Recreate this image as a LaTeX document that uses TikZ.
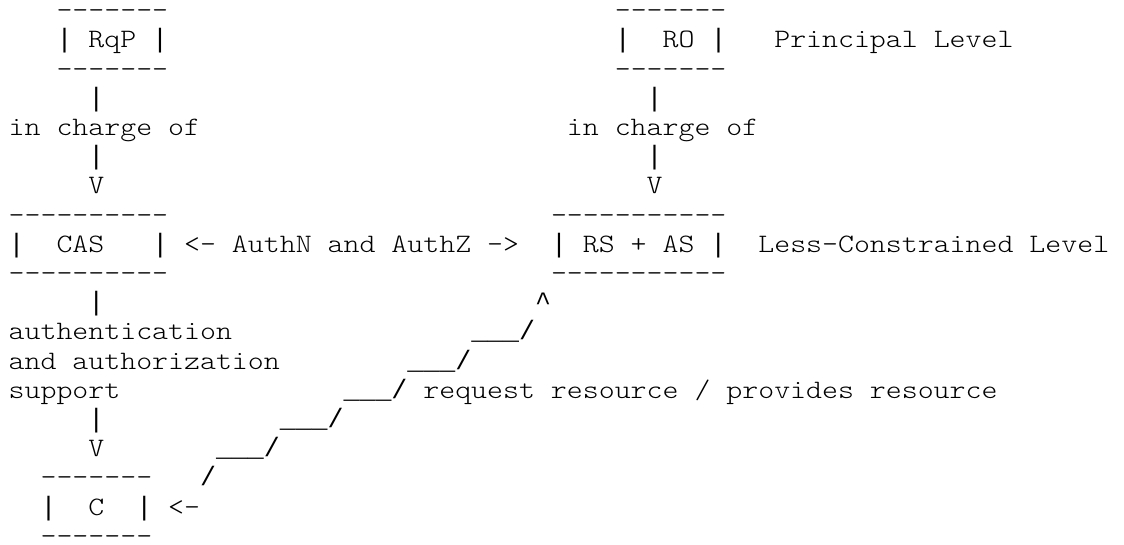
\documentclass[tikz,border=0pt]{standalone}
\usepackage{fontspec}
% thin serif typewriter face, widened to a 0.6em character cell
\newfontfamily\asciifont{lmmonolt10-regular}[Extension=.otf, FakeStretch=1.142857, Ligatures=TeXOff]
% full-height bars, carets and underscores in the same 0.6em cell
\newfontfamily\symfont{Liberation Mono}[Ligatures=TeXOff]
\newcommand\vb{{\symfont|}}
\newcommand\upcaret{{\symfont\textasciicircum}}
\newcommand\stair{{\symfont\_\_\_/}}
\begin{document}
\begin{tikzpicture}[
  x=15.95pt, y=-29.2pt,
  ascii/.style={font=\asciifont\fontsize{26.58pt}{29pt}\selectfont,
                anchor=base west, inner sep=0pt, outer sep=0pt, text=black}
]
% page frame: 1124 x 545, first baseline 18.7 below the top edge
\useasboundingbox[fill=white] (-8.7pt,18.7pt) rectangle (1115.3pt,-526.3pt);

% principal level
\node[ascii] (rqpTop) at (3,0) {-------};
\node[ascii] (rqpMid) at (3,1) {\vb{} RqP \vb};
\node[ascii] (rqpBot) at (3,2) {-------};
\node[ascii] (roTop)  at (38,0) {-------};
\node[ascii] (roL)    at (38,1) {\vb};
\node[ascii] (roMid)  at (41,1) {RO \vb};
\node[ascii] (roBot)  at (38,2) {-------};
\node[ascii] (principal) at (48,1) {Principal Level};

% "in charge of" links
\node[ascii] (rqpBar1) at (5,3) {\vb};
\node[ascii] (rqpLbl)  at (0,4) {in charge of};
\node[ascii] (rqpBar2) at (5,5) {\vb};
\node[ascii] (rqpHead) at (5,6) {V};
\node[ascii] (roBar1)  at (40,3) {\vb};
\node[ascii] (roLbl)   at (35,4) {in charge of};
\node[ascii] (roBar2)  at (40,5) {\vb};
\node[ascii] (roHead)  at (40,6) {V};

% less-constrained level
\node[ascii] (casTop) at (0,7) {----------};
\node[ascii] (casL)   at (0,8) {\vb};
\node[ascii] (casTxt) at (3,8) {CAS};
\node[ascii] (casR)   at (9,8) {\vb};
\node[ascii] (authLink) at (11,8) {<- AuthN and AuthZ ->};
\node[ascii] (casBot) at (0,9) {----------};
\node[ascii] (rsTop)  at (34,7) {-----------};
\node[ascii] (rsMid)  at (34,8) {\vb{} RS + AS \vb};
\node[ascii] (rsBot)  at (34,9) {-----------};
\node[ascii] (lessC)  at (47,8) {Less-Constrained Level};

% CAS -> C support link
\node[ascii] (casBar1) at (5,10) {\vb};
\node[ascii] (supp1)   at (0,11) {authentication};
\node[ascii] (supp2)   at (0,12) {and authorization};
\node[ascii] (supp3)   at (0,13) {support};
\node[ascii] (casBar2) at (5,14) {\vb};
\node[ascii] (casHead) at (5,15) {V};

% staircase C <-> RS + AS
\node[ascii] (rsHead) at (33,10) {\upcaret};
\node[ascii] (step1)  at (29,11) {\stair};
\node[ascii] (step2)  at (25,12) {\stair};
\node[ascii] (step3)  at (21,13) {\stair{} request resource / provides resource};
\node[ascii] (step4)  at (17,14) {\stair};
\node[ascii] (step5)  at (13,15) {\stair};
\node[ascii] (step6)  at (12,16) {{\symfont/}};

% client
\node[ascii] (cTop) at (2,16) {-------};
\node[ascii] (cL)   at (2,17) {\vb};
\node[ascii] (cTxt) at (5,17) {C};
\node[ascii] (cR)   at (8,17) {\vb};
\node[ascii] (cHead) at (10,17) {<-};
\node[ascii] (cBot) at (2,18) {-------};
\end{tikzpicture}
\end{document}
